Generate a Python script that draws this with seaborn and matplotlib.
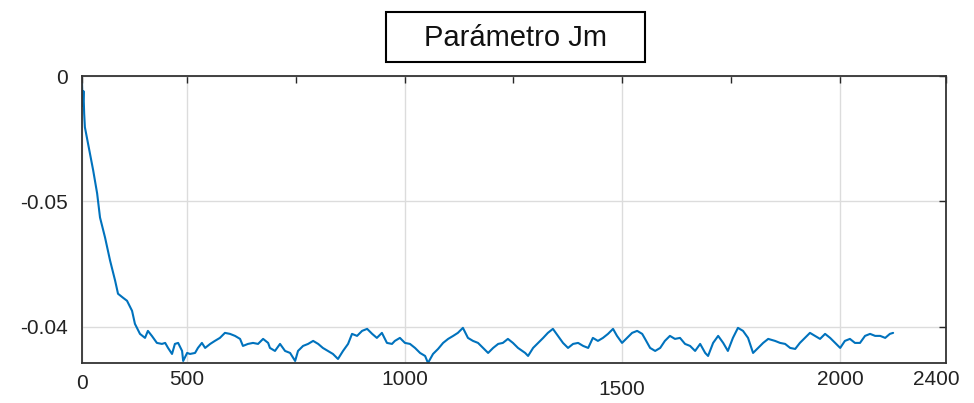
import numpy as np
import pandas as pd
import matplotlib
matplotlib.use("Agg")
import matplotlib.pyplot as plt
from matplotlib.patches import Rectangle
from matplotlib.transforms import ScaledTranslation
import seaborn as sns

# ---- data ----
iteration = [0, 2, 4, 6, 8, 22, 31, 42, 50, 64, 78, 92, 100, 114, 125, 139, 147,
             161, 175, 183, 194, 208, 222, 231, 239, 250, 258, 267, 278, 281, 292, 300,
             314, 322, 333, 342, 356, 369, 383, 397, 411, 425, 439, 447, 461, 475, 489,
             503, 517,
             522, 536, 550, 564, 578, 592, 600, 614, 628, 642, 656, 669, 683, 697, 711,
             725, 739, 750, 764, 778, 792, 806, 819, 833, 847, 861,
             869, 883, 897, 911, 925, 939, 953, 961, 975, 989, 1003, 1017, 1031, 1044,
             1058, 1072, 1086, 1100, 1114, 1128, 1142, 1156, 1169, 1183, 1197, 1211,
             1231, 1239, 1253, 1267, 1281, 1294, 1308, 1322, 1336, 1350, 1364, 1378,
             1392, 1406, 1419, 1433, 1447, 1461, 1475, 1486, 1500, 1514, 1528, 1542,
             1556, 1564, 1578, 1592, 1606, 1619, 1633, 1647, 1661, 1675, 1689, 1703,
             1717, 1731, 1739, 1753, 1767, 1781, 1794, 1808, 1822, 1836, 1850, 1864,
             1878, 1892, 1906,
             1925, 1939, 1953, 1967, 1981, 1994, 2008, 2022, 2036, 2050, 2064, 2078,
             2092, 2106, 2119, 2133, 2147, 2161, 2175, 2189, 2203, 2217, 2231, 2244, 2253]

jm = [-0.003, -0.012, -0.006, -0.015, -0.0204, -0.0308, -0.0376, -0.0468, -0.0564,
      -0.0644, -0.0736, -0.0816, -0.0868, -0.0884, -0.0896, -0.0936, -0.0988,
      -0.1028, -0.1044, -0.1016, -0.1036, -0.1064, -0.1068, -0.1064, -0.1084, -0.1108,
      -0.1068, -0.1064, -0.1096, -0.1136, -0.1104, -0.1108, -0.1104, -0.1084, -0.1064,
      -0.1084, -0.1068, -0.1056, -0.1044, -0.1024, -0.1028, -0.1036, -0.1048, -0.1076,
      -0.1068, -0.1064, -0.1068, -0.1048, -0.1064,
      -0.1084, -0.1096, -0.1068, -0.1096, -0.1104, -0.1136, -0.1096, -0.1076, -0.1068,
      -0.1056, -0.1068, -0.1084, -0.1096, -0.1108, -0.1128, -0.1096, -0.1068, -0.1028,
      -0.1036, -0.1016, -0.1008, -0.1028, -0.1044, -0.1024, -0.1064, -0.1068,
      -0.1056, -0.1044, -0.1064, -0.1068, -0.1084, -0.1104, -0.1116, -0.1144, -0.1108,
      -0.1088, -0.1064, -0.1048, -0.1036, -0.1024, -0.1004, -0.1044, -0.1056, -0.1064,
      -0.1084, -0.1104, -0.1084, -0.1068, -0.1064, -0.1048, -0.1064, -0.1084,
      -0.1104, -0.1116, -0.1084, -0.1064, -0.1044, -0.1024, -0.1008, -0.1036, -0.1064,
      -0.1084, -0.1068, -0.1064, -0.1076, -0.1084, -0.1044, -0.1056, -0.1044, -0.1028,
      -0.1008, -0.1036, -0.1064, -0.1044, -0.1024, -0.1016,
      -0.1028, -0.1048, -0.1084, -0.1096, -0.1084, -0.1056, -0.1036, -0.1048, -0.1044,
      -0.1068, -0.1076, -0.1096, -0.1068, -0.1104, -0.1116, -0.1064, -0.1036, -0.1064,
      -0.1096, -0.1044, -0.1004, -0.1016, -0.1044, -0.1104, -0.1084, -0.1064, -0.1048,
      -0.1056, -0.1064, -0.1068, -0.1084, -0.1088, -0.1064, -0.1044, -0.1024, -0.1036,
      -0.1048, -0.1028, -0.1044, -0.1064, -0.1084, -0.1056, -0.1048, -0.1064, -0.1064,
      -0.1036, -0.1028, -0.1036, -0.1036, -0.1044, -0.1028, -0.1024]

x_tick_pos = [0, 292, 897, 1500, 2106, 2400]
x_tick_labels = ["0", "500", "1000", "1500", "2000", "2400"]
x_minor_pos = [595, 1198, 1803]
y_tick_pos = [0, -0.05, -0.1]
y_tick_labels = ["0", "-0.05", "-0.04"]
title_text = "Parámetro Jm"

df = pd.DataFrame({"iter": iteration, "jm": jm})

sns.set_theme(style="white")
plt.rcParams["font.family"] = ["Liberation Sans", "DejaVu Sans"]

fig = plt.figure(figsize=(9.74, 4.03), dpi=100)
ax = fig.add_axes([0.0842, 0.0993, 0.8871, 0.7121])

sns.lineplot(data=df, x="iter", y="jm", ax=ax, color="#0072BD", linewidth=1.5)

ax.set_xlim(0, 2400)
ax.set_ylim(-0.1144, 0)
ax.set_xticks(x_tick_pos)
ax.set_xticklabels(x_tick_labels, fontsize=15, color="#222222")
ax.set_xticks(x_minor_pos, minor=True)
ax.set_yticks(y_tick_pos)
ax.set_yticklabels(y_tick_labels, fontsize=15, color="#222222")
ax.set_xlabel("")
ax.set_ylabel("")

ax.grid(True, which="major", color="#dcdcdc", linewidth=1.0)
ax.tick_params(axis="both", which="both", direction="in", top=True, right=True,
               length=5, width=1.0, color="#262626")
ax.tick_params(axis="x", which="major", pad=5)
ax.tick_params(axis="y", which="major", pad=10)
for s in ax.spines.values():
    s.set_color("#333333")
    s.set_linewidth(1.3)

# individual label offsets as in reference
xt = ax.xaxis.get_major_ticks()
xt[3].set_pad(12)
xt[0].set_pad(8)
lab = ax.get_xticklabels()[5]
lab.set_transform(lab.get_transform() + ScaledTranslation(-10 / 100, 0, fig.dpi_scale_trans))

# boxed title
fig.patches.append(Rectangle((386 / 974, 1 - 62 / 403), 259 / 974, 50 / 403,
                             transform=fig.transFigure, facecolor="white",
                             edgecolor="black", linewidth=1.5))
fig.text(515 / 974, 1 - 38 / 403, title_text, ha="center", va="center",
         fontsize=21, color="#111111")

fig.savefig("out.png", dpi=100)
